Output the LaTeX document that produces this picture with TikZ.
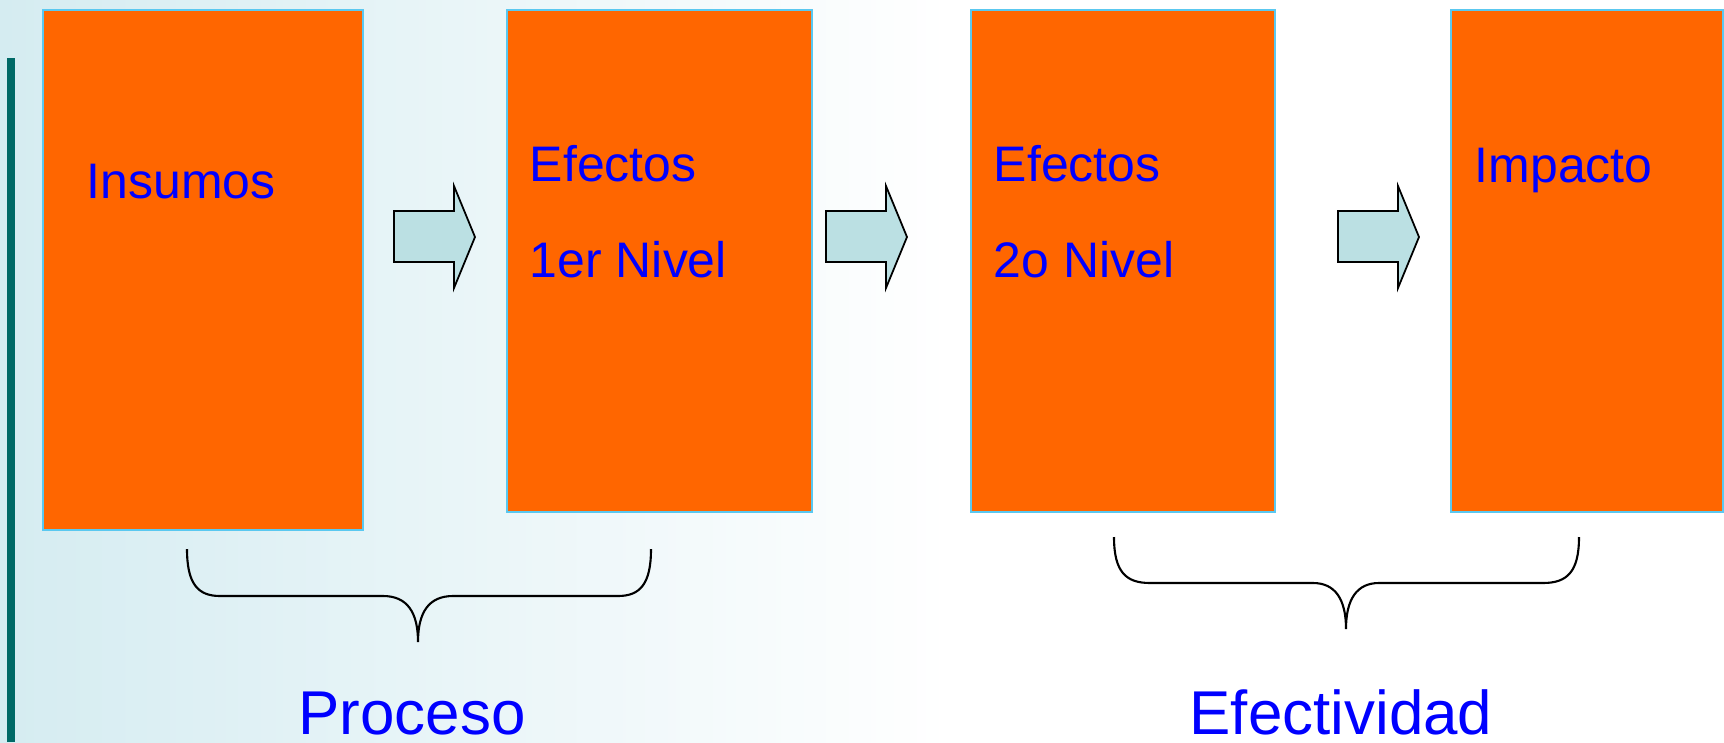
\documentclass[tikz,border=0pt]{standalone}
\usepackage{fontspec}
\setmainfont{Liberation Sans}
\usepackage{tikz}
\usetikzlibrary{positioning,calc}
\definecolor{naranja}{RGB}{255,102,0}
\definecolor{celeste}{RGB}{90,200,240}
\definecolor{aguamarina}{RGB}{187,224,227}
\definecolor{fondo}{RGB}{213,236,241}
\definecolor{barra}{RGB}{0,105,102}
\tikzset{caja/.style={draw=celeste,fill=naranja,line width=0.6pt,anchor=north west,inner sep=0pt}}

\begin{document}
\begin{tikzpicture}[x=0.01cm, y=-0.01cm, line width=0.5pt]
    \tikzstyle{texto}=[text=blue,inner sep=0pt,anchor=base west,font=\fontsize{14.2}{17}\selectfont]
    \tikzstyle{titulo}=[text=blue,inner sep=0pt,anchor=base,font=\fontsize{17.6}{21}\selectfont]
    \tikzstyle{flecha}=[draw=black,fill=aguamarina,line join=miter]
    \useasboundingbox (0,0) rectangle (1724,742);
    \shade[left color=fondo,right color=white] (0,0) rectangle (950,742);
    \fill[barra] (7,58) rectangle (15,742);

    \node[caja,minimum width=3.20cm,minimum height=5.20cm] (A) at (42,9) {};
    \node[caja,minimum width=3.05cm,minimum height=5.02cm] (B) at (506,9) {};
    \node[caja,minimum width=3.04cm,minimum height=5.02cm] (C) at (970,9) {};
    \node[caja,minimum width=2.72cm,minimum height=5.02cm] (D) at (1450,9) {};

    \node[texto] (a) at (86,198) {Insumos};
    \node[texto] (b1) at (529,181) {Efectos};
    \node[texto] (b2) at (529,277) {1er Nivel};
    \node[texto] (c1) at (993,181) {Efectos};
    \node[texto] (c2) at (993,277) {2o Nivel};
    \node[texto] (d) at (1474,182) {Impacto};

    \foreach \x in {394,826,1338}
        \draw[flecha] (\x,211) -- ++(60,0) -- ++(0,-25) -- ++(21,51) -- ++(-21,51) -- ++(0,-26) -- ++(-60,0) -- cycle;

    \draw[line width=0.6pt] (187,549) .. controls (187,584) and (198,596) .. (220,596) -- (383,596)
        .. controls (407,596) and (418,612) .. (418,642)
        .. controls (418,612) and (429,596) .. (453,596) -- (618,596)
        .. controls (640,596) and (651,584) .. (651,549);
    \draw[line width=0.6pt] (1114,537) .. controls (1114,572) and (1126,583) .. (1150,583) -- (1313,583)
        .. controls (1335,583) and (1346,599) .. (1346,629)
        .. controls (1346,599) and (1357,583) .. (1379,583) -- (1543,583)
        .. controls (1567,583) and (1579,572) .. (1579,537);

    \node[titulo] (P) at (412,734) {Proceso};
    \node[titulo] (E) at (1341,734) {Efectividad};
\end{tikzpicture}
\end{document}
